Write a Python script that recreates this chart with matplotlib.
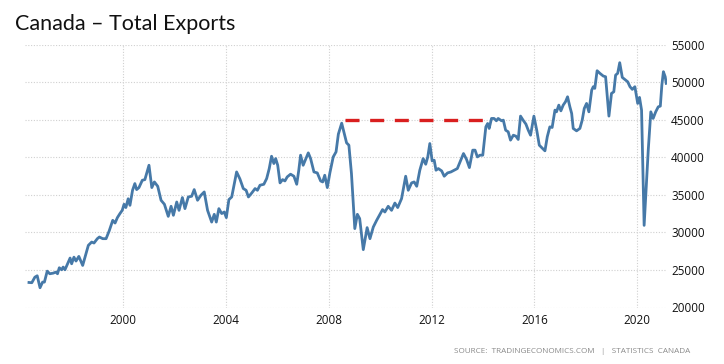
import matplotlib
matplotlib.use('Agg')
import numpy as np
import matplotlib.pyplot as plt

# %% data (CAD millions, monthly-ish)
years = [
    1996.33, 1996.44, 1996.56, 1996.65, 1996.76, 1996.86, 1996.93, 1997.04, 1997.14, 1997.27,
    1997.38, 1997.44, 1997.51, 1997.60, 1997.66, 1997.73, 1997.93, 1997.99, 1998.08, 1998.16,
    1998.27, 1998.42, 1998.51, 1998.64, 1998.77, 1998.86, 1998.99, 1999.07, 1999.20, 1999.33,
    1999.45, 1999.59, 1999.68, 1999.77, 1999.87, 1999.96, 2000.03, 2000.10, 2000.19, 2000.26,
    2000.36, 2000.45, 2000.52, 2000.61, 2000.74, 2000.84, 2001.00, 2001.11, 2001.21, 2001.34,
    2001.47, 2001.60, 2001.75, 2001.86, 2001.95, 2002.08, 2002.17, 2002.30, 2002.40, 2002.53,
    2002.66, 2002.76, 2002.89, 2003.02, 2003.15, 2003.28, 2003.44, 2003.54, 2003.62, 2003.72,
    2003.83, 2003.93, 2004.01, 2004.11, 2004.22, 2004.41, 2004.54, 2004.67, 2004.78, 2004.87,
    2005.00, 2005.13, 2005.22, 2005.32, 2005.47, 2005.58, 2005.68, 2005.77, 2005.86, 2005.93,
    2006.01, 2006.10, 2006.20, 2006.29, 2006.38, 2006.51, 2006.64, 2006.75, 2006.83, 2006.90,
    2007.00, 2007.11, 2007.20, 2007.29, 2007.42, 2007.55, 2007.68, 2007.76, 2007.84, 2007.94,
    2008.04, 2008.17, 2008.28, 2008.37, 2008.50, 2008.60, 2008.69, 2008.78, 2008.88, 2009.01,
    2009.11, 2009.20, 2009.34, 2009.49, 2009.60, 2009.73, 2009.86, 2009.99, 2010.09, 2010.18,
    2010.31, 2010.44, 2010.57, 2010.68, 2010.83, 2010.99, 2011.09, 2011.22, 2011.32, 2011.42,
    2011.54, 2011.67, 2011.77, 2011.85, 2011.93, 2012.02, 2012.10, 2012.17, 2012.26, 2012.39,
    2012.49, 2012.62, 2012.75, 2012.88, 2013.00, 2013.24, 2013.36, 2013.47, 2013.60, 2013.69,
    2013.78, 2013.88, 2013.99, 2014.11, 2014.18, 2014.24, 2014.33, 2014.43, 2014.52, 2014.59,
    2014.72, 2014.79, 2014.88, 2014.98, 2015.07, 2015.18, 2015.28, 2015.37, 2015.46, 2015.56,
    2015.67, 2015.76, 2015.85, 2015.98, 2016.09, 2016.19, 2016.32, 2016.41, 2016.50, 2016.60,
    2016.69, 2016.80, 2016.86, 2016.95, 2017.03, 2017.12, 2017.21, 2017.29, 2017.38, 2017.45,
    2017.51, 2017.64, 2017.77, 2017.86, 2017.94, 2018.03, 2018.12, 2018.23, 2018.29, 2018.35,
    2018.44, 2018.55, 2018.68, 2018.77, 2018.90, 2019.00, 2019.09, 2019.16, 2019.24, 2019.32,
    2019.42, 2019.55, 2019.63, 2019.72, 2019.81, 2019.91, 2020.02, 2020.09, 2020.17, 2020.27,
    2020.43, 2020.53, 2020.62, 2020.72, 2020.82, 2020.90, 2020.96, 2021.02, 2021.09, 2021.13,
]
exports = [
    23330, 23300, 24040, 24220, 22630, 23380, 23380, 24840, 24490, 24570,
    24710, 24490, 25290, 25020, 25380, 25020, 26580, 25820, 26700, 26180,
    26800, 25600, 26700, 28270, 28710, 28580, 29160, 29380, 29160, 29160,
    30180, 31600, 31240, 31960, 32500, 32940, 33740, 33300, 34470, 33600,
    35600, 36490, 35690, 35960, 36930, 37020, 38930, 35960, 36710, 36130,
    34270, 33740, 32130, 33470, 32270, 34040, 32930, 34630, 33160, 34710,
    34800, 35690, 34270, 34930, 35380, 32930, 31370, 32400, 31370, 33160,
    32500, 32710, 31960, 34360, 34710, 38040, 37100, 35830, 35600, 34710,
    35240, 35830, 35600, 36270, 36400, 37160, 38490, 40130, 39160, 39820,
    38930, 36580, 37020, 36840, 37380, 37740, 37470, 36400, 38270, 40270,
    38930, 39820, 40580, 39820, 38040, 37910, 36840, 36710, 37600, 35960,
    37910, 40040, 40710, 43070, 44530, 43160, 41910, 41600, 37820, 30500,
    32400, 31830, 27700, 30630, 29160, 30710, 31600, 32400, 33030, 32710,
    33470, 32930, 33900, 33300, 34490, 37470, 35600, 36580, 36710, 36130,
    38270, 39820, 39060, 40040, 41820, 39510, 39600, 38270, 38490, 38180,
    37470, 37910, 38040, 38270, 38490, 40490, 39700, 38620, 40940, 40940,
    40040, 40270, 40270, 44040, 44490, 43830, 45160, 45160, 44850, 45160,
    44850, 44930, 43600, 43380, 42270, 42930, 42800, 42360, 45470, 44930,
    44400, 43600, 42930, 45470, 43600, 41600, 41160, 40850, 42710, 44040,
    43960, 46270, 46040, 46930, 46170, 46930, 47380, 48040, 46710, 45820,
    43830, 43510, 43830, 44930, 46490, 47160, 46040, 48930, 49380, 49160,
    51510, 51160, 50800, 50710, 45470, 48490, 48710, 50930, 51160, 52580,
    50620, 50270, 50040, 49380, 49030, 49380, 47160, 47960, 46270, 30930,
    40930, 46040, 45160, 46040, 46710, 46800, 49600, 51380, 50710, 49830,
]

prev_peak = 44900
peak_span = [2008.62, 2014.15]

x_ticks = [2000, 2004, 2008, 2012, 2016, 2020]
y_ticks = [20000, 25000, 30000, 35000, 40000, 45000, 50000, 55000]

# %%
W, H = 724, 364
fig = plt.figure(figsize=(W/100, H/100), dpi=100)
ax = fig.add_axes([25/W, 56.5/H, (667-25)/W, (307.5-44.5)/H])

ax.plot(years, exports, color='#4679a8', lw=2.0, solid_joinstyle='round')
ax.plot(peak_span, [prev_peak, prev_peak], color='#d91f1f', lw=2.4,
        dashes=(4.2, 3.2), solid_capstyle='butt')

ax.set_xlim(1996.175, 2021.16)
ax.set_ylim(20000, 55000)
ax.set_xticks(x_ticks)
ax.set_yticks(y_ticks)
ax.set_xticklabels([str(t) for t in x_ticks], family='Open Sans', fontsize=8.4, color='#111111')
ax.set_yticklabels([str(t) for t in y_ticks], family='Open Sans', fontsize=8.4, color='#111111')
ax.yaxis.tick_right()
ax.tick_params(axis='both', length=0)
ax.tick_params(axis='y', pad=3)
ax.tick_params(axis='x', pad=5)
for s in ax.spines.values():
    s.set_visible(False)
ax.grid(True, color='#d0d0d0', ls=(0, (1, 1.5)), lw=0.8)
ax.set_axisbelow(True)

fig.text(15/W, 1 - 30/H, 'Canada – Total Exports', family='Lato', fontsize=15.5,
         va='baseline', ha='left', color='#111111')
fig.text(690/W, 1 - 353/H, 'SOURCE:  TRADINGECONOMICS.COM   |   STATISTICS  CANADA',
         family='Open Sans', fontsize=5.9, color='#8a8a8a', ha='right', va='baseline')

fig.savefig('out.png', dpi=100)
